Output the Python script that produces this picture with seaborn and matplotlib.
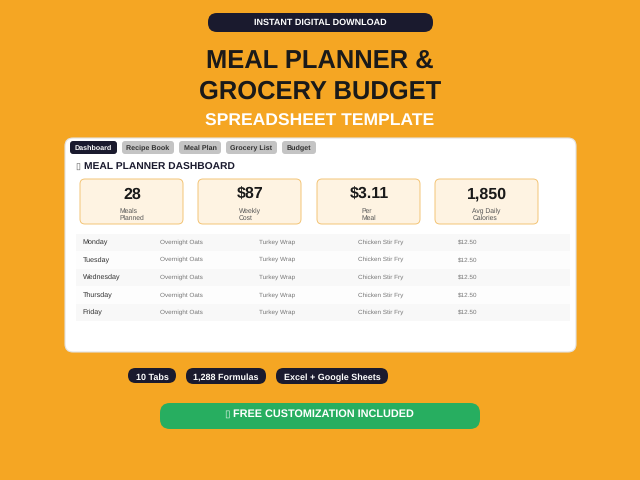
import matplotlib
matplotlib.use('Agg')
import matplotlib.pyplot as plt
from matplotlib.colors import ListedColormap
from matplotlib.patches import FancyBboxPatch
import seaborn as sns

tabs = ['Dashboard', 'Recipe Book', 'Meal Plan', 'Grocery List', 'Budget']
kpi_values = ['28', '$87', '$3.11', '1,850']
kpi_labels = ['Meals\nPlanned', 'Weekly\nCost', 'Per\nMeal', 'Avg Daily\nCalories']
days = ['Monday', 'Tuesday', 'Wednesday', 'Thursday', 'Friday']
breakfast = ['Overnight Oats'] * 5
lunch = ['Turkey Wrap'] * 5
dinner = ['Chicken Stir Fry'] * 5
cost = ['$12.50'] * 5
chips = ['10 Tabs', '1,288 Formulas', 'Excel + Google Sheets']

ORANGE = '#F5A623'
DARK = '#1A1A2E'

sns.set_theme(style='white')
plt.rcParams['font.family'] = ['Liberation Sans', 'DejaVu Sans']
plt.rcParams['text.hinting'] = 'none'
plt.rcParams['text.hinting_factor'] = 8

fig = plt.figure(figsize=(6.4, 4.8), dpi=100, facecolor=ORANGE)


def pixel_axes(z):
    a = fig.add_axes([0, 0, 1, 1], zorder=z)
    a.set_xlim(0, 640)
    a.set_ylim(480, 0)
    a.axis('off')
    return a


ax = pixel_axes(1)
top_ax = pixel_axes(4)


def box(x0, y0, x1, y1, r, color, edge='none', lw=0, z=1):
    ax.add_patch(FancyBboxPatch((x0, y0), x1 - x0, y1 - y0,
                                boxstyle=f'round,pad=0,rounding_size={r}',
                                fc=color, ec=edge, lw=lw, zorder=z))


def label(x, y, s, px, color, bold=False, ha='center', target=None):
    # y is the middle of the capitals, baseline keeps rows level
    (target or ax).text(x, y + 0.34 * px, s, fontsize=px * 0.72, color=color, ha=ha, va='baseline',
                        fontweight='bold' if bold else 'normal', zorder=5)


# header
box(208, 13, 433, 32, 9, DARK)
label(320, 21.5, 'INSTANT DIGITAL DOWNLOAD', 9, 'white', True)
label(320, 60, 'MEAL PLANNER &', 25.5, '#1A1A1A', True)
label(320, 90, 'GROCERY BUDGET', 25.5, '#1A1A1A', True)
label(320, 119.5, 'SPREADSHEET TEMPLATE', 17.5, 'white', True)

# white card
box(65, 138, 576, 352, 8, 'white', edge='#E2E2E2', lw=0.8)

# tabs
tab_edges = [(70, 117), (122, 174), (179, 221), (226, 277), (282, 316)]
for i, (name, (x0, x1)) in enumerate(zip(tabs, tab_edges)):
    active = i == 0
    box(x0, 141, x1, 154, 3, DARK if active else '#C4C4C4', z=2)
    label((x0 + x1) / 2, 147.5, name, 7.1, 'white' if active else '#333333', True)

label(75.5, 166, '\u25af', 9, '#555555', ha='left')
label(83.5, 166, 'MEAL PLANNER DASHBOARD', 10.3, '#1A1A2E', True, ha='left')

# kpi cards
kpi_left = [80, 198, 317, 435]
kpi_text_left = [119.5, 239, 361, 472.5]
for x0, tx, val, lab in zip(kpi_left, kpi_text_left, kpi_values, kpi_labels):
    box(x0, 179, x0 + 103, 224, 5, '#FEF3E2', edge='#F3C475', lw=0.7, z=2)
    label(x0 + 52, 193, val, 16, '#1A1A1A', True)
    first, second = lab.split('\n')
    label(tx, 210.5, first, 6.8, '#555555', ha='left')
    label(tx, 217.5, second, 6.8, '#555555', ha='left')

# table banding is a one column heatmap
band_ax = fig.add_axes([76 / 640, 1 - 321 / 480, 494 / 640, 87 / 480], zorder=2)
sns.heatmap([[i % 2] for i in range(len(days))], ax=band_ax, cbar=False,
            cmap=ListedColormap(['#F8F8F8', '#FDFDFD']), xticklabels=False,
            yticklabels=False)

row_y = [241.5, 259, 276.5, 294.5, 311.5]
for y, d, b, l, n, c in zip(row_y, days, breakfast, lunch, dinner, cost):
    label(82.5, y, d, 7.2, '#333333', ha='left', target=top_ax)
    label(160, y, b, 6.4, '#777777', ha='left', target=top_ax)
    label(259, y, l, 6.4, '#777777', ha='left', target=top_ax)
    label(358.5, y, n, 6.4, '#777777', ha='left', target=top_ax)
    label(457.5, y, c, 6.4, '#777777', ha='left', target=top_ax)

# chips
chip_edges = [(128, 176, 383), (186, 266, 384), (276, 388, 384)]
for name, (x0, x1, y1) in zip(chips, chip_edges):
    box(x0, 368, x1, y1, 7.5, DARK)
    label((x0 + x1) / 2, 377, name, 9, 'white', True)

# green banner
box(160, 403, 480, 429, 10, '#27AE60')
label(224.5, 413, '\u25af', 10, '#E8F5EC', ha='left')
label(233, 413, 'FREE CUSTOMIZATION INCLUDED', 10.9, 'white', True, ha='left')

fig.savefig('out.png', dpi=100, facecolor=ORANGE)
